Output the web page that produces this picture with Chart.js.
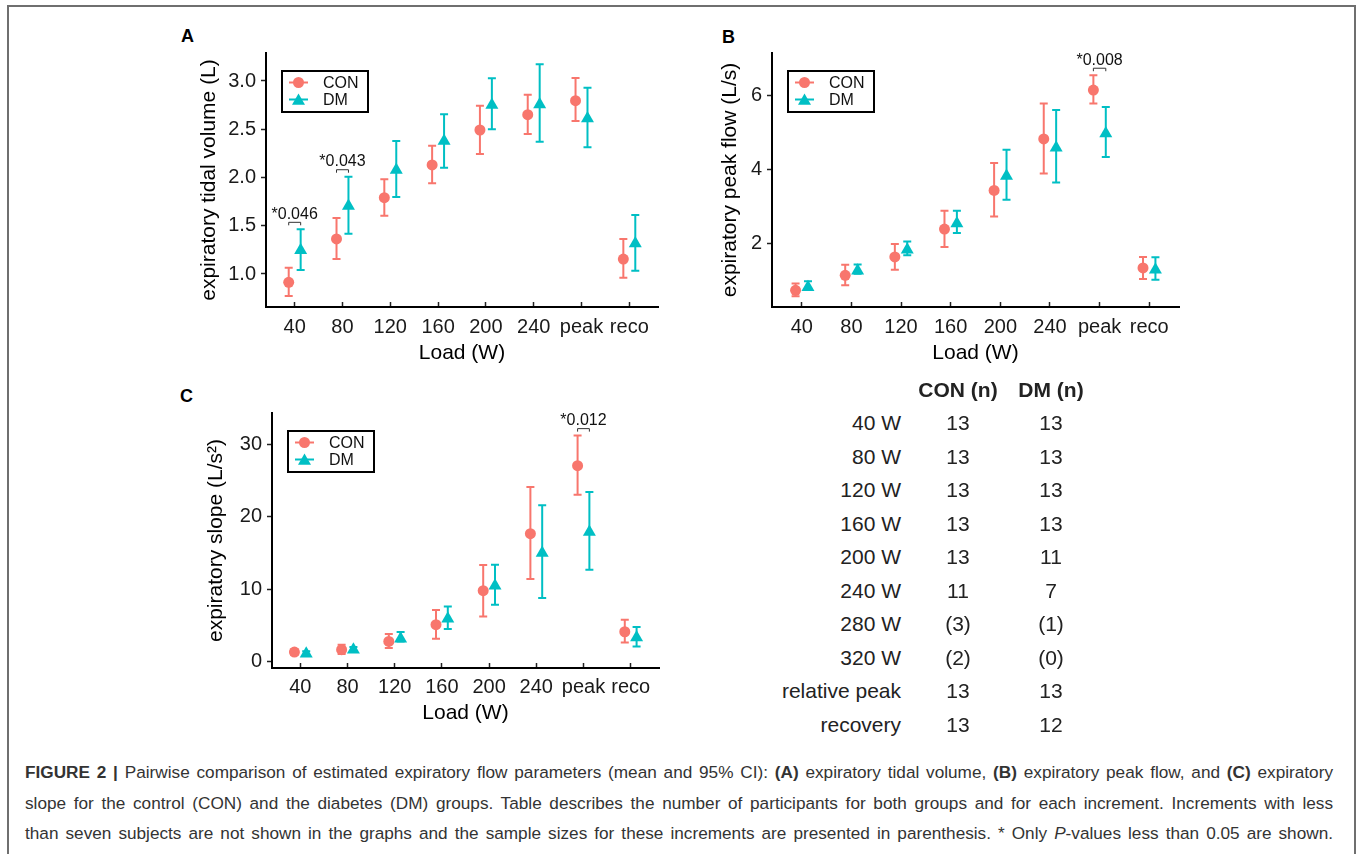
<!DOCTYPE html>
<html>
<head>
<meta charset="utf-8">
<script src="https://cdn.jsdelivr.net/npm/chart.js@4/dist/chart.umd.min.js"></script>
<style>
  body { margin: 0; background: #fff; font-family: 'Liberation Sans', Arial, sans-serif; }
  #page { position: relative; width: 1357px; height: 854px; overflow: hidden; }
  #frame { position: absolute; left: 7px; top: 5px; width: 1345px; height: 900px;
    border: 2px solid #6f6f6f; border-bottom: none; }
  canvas { position: absolute; }
  .panel { position: absolute; font-weight: bold; font-size: 18px; color: #000; }
  .cell { position: absolute; font-size: 21px; line-height: 24px; color: #222; white-space: nowrap; }
  .caption { position: absolute; left: 25px; width: 1308px; font-size: 17.2px; line-height: 30.5px;
    color: #333; text-align: justify; text-align-last: justify; white-space: nowrap; }
</style>
</head>
<body>
<div id="page">
  <div id="frame"></div>
  <div class="panel" style="left:181px; top:26px;">A</div>
  <div class="panel" style="left:722px; top:27px;">B</div>
  <div class="panel" style="left:180px; top:386px;">C</div>
  <canvas id="chartA" width="500" height="340" style="left:170px; top:40px;"></canvas>
  <canvas id="chartB" width="500" height="340" style="left:700px; top:40px;"></canvas>
  <canvas id="chartC" width="500" height="340" style="left:170px; top:400px;"></canvas>
  <div id="table"></div>
  <div class="caption" style="top:757px;"><b>FIGURE 2 |</b> Pairwise comparison of estimated expiratory flow parameters (mean and 95% CI): <b>(A)</b> expiratory tidal volume, <b>(B)</b> expiratory peak flow, and <b>(C)</b> expiratory</div>
  <div class="caption" style="top:788px;">slope for the control (CON) and the diabetes (DM) groups. Table describes the number of participants for both groups and for each increment. Increments with less</div>
  <div class="caption" style="top:818px;">than seven subjects are not shown in the graphs and the sample sizes for these increments are presented in parenthesis. * Only <i>P</i>-values less than 0.05 are shown.</div>
</div>
<script>
// categories on the x axis
const cats = ["40", "80", "120", "160", "200", "240", "peak", "reco"];

// A: expiratory tidal volume (L)
const conTv = [0.914, 1.363, 1.791, 2.130, 2.492, 2.651, 2.796, 1.155];
const conTvLo = [0.772, 1.155, 1.604, 1.940, 2.244, 2.451, 2.585, 0.962];
const conTvHi = [1.065, 1.580, 1.981, 2.330, 2.744, 2.858, 3.031, 1.363];
const dmTv = [1.245, 1.705, 2.077, 2.378, 2.751, 2.757, 2.612, 1.317];
const dmTvLo = [1.041, 1.418, 1.798, 2.102, 2.500, 2.371, 2.313, 1.034];
const dmTvHi = [1.463, 2.008, 2.378, 2.655, 3.028, 3.173, 2.931, 1.611];
const tvTicks = [1.0, 1.5, 2.0, 2.5, 3.0];
const tvP = [{ cat: 0, text: "*0.046" }, { cat: 1, text: "*0.043" }];

// B: expiratory peak flow (L/s)
const conPf = [0.744, 1.148, 1.644, 2.398, 3.44, 4.83, 6.15, 1.35];
const conPfLo = [0.582, 0.879, 1.302, 1.914, 2.74, 3.90, 5.79, 1.05];
const conPfHi = [0.925, 1.437, 1.995, 2.892, 4.18, 5.79, 6.55, 1.644];
const dmPf = [0.83, 1.27, 1.84, 2.55, 3.83, 4.59, 4.98, 1.30];
const dmPfLo = [0.76, 1.19, 1.69, 2.29, 3.19, 3.655, 4.34, 1.03];
const dmPfHi = [0.99, 1.44, 2.065, 2.89, 4.54, 5.61, 5.69, 1.635];
const pfTicks = [2, 4, 6];
const pfP = [{ cat: 6, text: "*0.008" }];

// C: expiratory slope (L/s^2)
const conSl = [1.30, 1.62, 2.77, 5.08, 9.79, 17.69, 27.1, 4.11];
const conSlLo = [0.9, 1.02, 1.86, 3.14, 6.23, 11.41, 23.09, 2.63];
const conSlHi = [1.7, 2.31, 3.79, 7.12, 13.36, 24.15, 31.26, 5.78];
const dmSl = [1.06, 1.62, 3.14, 5.91, 10.49, 15.0, 17.9, 3.32];
const dmSlLo = [0.8, 1.4, 2.77, 4.49, 7.85, 8.78, 12.7, 2.08];
const dmSlHi = [1.4, 2.0, 4.07, 7.62, 13.39, 21.61, 23.46, 4.76];
const slTicks = [0, 10, 20, 30];
const slP = [{ cat: 6, text: "*0.012" }];

// table of sample sizes
const tableRows = ["40 W", "80 W", "120 W", "160 W", "200 W", "240 W", "280 W", "320 W", "relative peak", "recovery"];
const conN = ["13", "13", "13", "13", "13", "11", "(3)", "(2)", "13", "13"];
const dmN = ["13", "13", "13", "13", "11", "7", "(1)", "(0)", "13", "12"];

const RED = "#F8766D";
const TEAL = "#00BFC4";
const FONT = "'Liberation Sans', Arial, sans-serif";

Chart.defaults.font.family = FONT;
Chart.defaults.color = "#1a1a1a";

// vertical error bars with caps, drawn under the points
const errorBars = {
  id: "errorBars",
  beforeDatasetsDraw(chart) {
    const ctx = chart.ctx;
    const yScale = chart.scales.y;
    chart.data.datasets.forEach((ds, di) => {
      const meta = chart.getDatasetMeta(di);
      ctx.save();
      ctx.strokeStyle = ds.borderColor;
      ctx.lineWidth = 2;
      meta.data.forEach((pt, i) => {
        const lo = yScale.getPixelForValue(ds.lower[i]);
        const hi = yScale.getPixelForValue(ds.upper[i]);
        ctx.beginPath();
        ctx.moveTo(pt.x, lo); ctx.lineTo(pt.x, hi);
        ctx.moveTo(pt.x - 4, lo); ctx.lineTo(pt.x + 4, lo);
        ctx.moveTo(pt.x - 4, hi); ctx.lineTo(pt.x + 4, hi);
        ctx.stroke();
      });
      ctx.restore();
    });
  }
};

function drawMarker(ctx, style, x, y, r) {
  ctx.beginPath();
  if (style === "triangle") {
    ctx.moveTo(x, y - r);
    ctx.lineTo(x + r * Math.sin(Math.PI * 2 / 3), y - r * Math.cos(Math.PI * 2 / 3));
    ctx.lineTo(x + r * Math.sin(Math.PI * 4 / 3), y - r * Math.cos(Math.PI * 4 / 3));
    ctx.closePath();
  } else {
    ctx.arc(x, y, r, 0, Math.PI * 2);
  }
  ctx.fill();
}

// boxed legend inside the top-left corner of the plot
const boxLegend = {
  id: "boxLegend",
  afterDraw(chart) {
    const { ctx, chartArea } = chart;
    const bx = chartArea.left + 16;
    const by = chartArea.top + 18;
    ctx.save();
    ctx.lineWidth = 2;
    ctx.strokeStyle = "#000";
    ctx.strokeRect(bx, by, 86, 41);
    chart.data.datasets.forEach((ds, i) => {
      const cy = by + 11.5 + i * 17;
      ctx.strokeStyle = ds.borderColor;
      ctx.fillStyle = ds.backgroundColor;
      ctx.beginPath();
      ctx.moveTo(bx + 7, cy); ctx.lineTo(bx + 26, cy);
      ctx.stroke();
      drawMarker(ctx, ds.pointStyle, bx + 16.5, cy + (ds.pointStyle === "triangle" ? 1.5 : 0), ds.pointRadius);
      ctx.fillStyle = "#111";
      ctx.font = "16px " + FONT;
      ctx.textBaseline = "middle";
      ctx.fillText(ds.label, bx + 41, cy + 1);
    });
    ctx.restore();
  }
};

// p-value labels with a small bracket over the pair
const pValues = {
  id: "pValues",
  afterDatasetsDraw(chart, args, opts) {
    const ctx = chart.ctx;
    const yScale = chart.scales.y;
    const con = chart.data.datasets[0], dm = chart.data.datasets[1];
    ctx.save();
    (opts.items || []).forEach(item => {
      const x1 = chart.getDatasetMeta(0).data[item.cat].x;
      const x2 = chart.getDatasetMeta(1).data[item.cat].x;
      const top = Math.min(yScale.getPixelForValue(con.upper[item.cat]), yScale.getPixelForValue(dm.upper[item.cat]));
      const yb = top - 7;
      ctx.strokeStyle = "#333";
      ctx.lineWidth = 1;
      ctx.beginPath();
      ctx.moveTo(x1, yb + 3); ctx.lineTo(x1, yb); ctx.lineTo(x2, yb); ctx.lineTo(x2, yb + 3);
      ctx.stroke();
      ctx.fillStyle = "#111";
      ctx.font = "16px " + FONT;
      ctx.textAlign = "center";
      ctx.textBaseline = "middle";
      ctx.fillText(item.text, (x1 + x2) / 2, yb - 8);
    });
    ctx.restore();
  }
};

function buildChart(id, p) {
  const dodge = 0.125;
  return new Chart(document.getElementById(id), {
    type: "scatter",
    data: {
      datasets: [
        {
          label: "CON",
          data: p.con.map((v, i) => ({ x: i - dodge, y: v })),
          lower: p.conLo, upper: p.conHi,
          pointStyle: "circle", pointRadius: 5.5, borderWidth: 0,
          backgroundColor: RED, borderColor: RED
        },
        {
          label: "DM",
          data: p.dm.map((v, i) => ({ x: i + dodge, y: v })),
          lower: p.dmLo, upper: p.dmHi,
          pointStyle: "triangle", pointRadius: 7.5, borderWidth: 0,
          backgroundColor: TEAL, borderColor: TEAL
        }
      ]
    },
    options: {
      responsive: false,
      animation: false,
      events: [],
      layout: { padding: { top: p.padTop, right: p.padRight, left: 0, bottom: 0 } },
      plugins: {
        legend: { display: false },
        tooltip: { enabled: false },
        pValues: { items: p.pLabels }
      },
      scales: {
        x: {
          type: "linear",
          min: -0.6,
          max: 7.6,
          afterBuildTicks: s => { s.ticks = cats.map((c, i) => ({ value: i })); },
          afterFit: s => { s.height = p.xH; s.paddingLeft = 0; s.paddingRight = 0; },
          ticks: { callback: (v, i) => cats[i], font: { size: 20 }, padding: p.xTickPad, maxRotation: 0, autoSkip: false, color: "#1a1a1a" },
          grid: { drawOnChartArea: false, tickLength: -5, tickColor: "#222", tickWidth: 1.5 },
          border: { color: "#000", width: 2 },
          title: { display: true, text: "Load (W)", font: { size: 21 }, color: "#000", padding: { top: 0, bottom: p.xTitlePad } }
        },
        y: {
          min: p.yMin,
          max: p.yMax,
          afterBuildTicks: s => { s.ticks = p.yTicks.map(v => ({ value: v })); },
          afterFit: s => { s.width = p.yW; s.paddingTop = 0; s.paddingBottom = 0; },
          ticks: { callback: v => v.toFixed(p.decimals), font: { size: 20 }, padding: 5, color: "#1a1a1a" },
          grid: { drawOnChartArea: false, tickLength: 5, tickColor: "#222", tickWidth: 1.5 },
          border: { color: "#000", width: 2 },
          title: { display: true, text: p.yTitle, font: { size: 21 }, color: "#000", padding: { top: p.yTitlePad, bottom: 0 } }
        }
      }
    },
    plugins: [errorBars, boxLegend, pValues]
  });
}

buildChart("chartA", {
  con: conTv, conLo: conTvLo, conHi: conTvHi, dm: dmTv, dmLo: dmTvLo, dmHi: dmTvHi,
  yMin: 0.658, yMax: 3.29, yTicks: tvTicks, decimals: 1, yTitle: "expiratory tidal volume (L)", pLabels: tvP,
  padTop: 13, padRight: 12, yW: 96, xH: 73, yTitlePad: 27, xTitlePad: 14, xTickPad: 13
});

buildChart("chartB", {
  con: conPf, conLo: conPfLo, conHi: conPfHi, dm: dmPf, dmLo: dmPfLo, dmHi: dmPfHi,
  yMin: 0.294, yMax: 7.15, yTicks: pfTicks, decimals: 0, yTitle: "expiratory peak flow (L/s)", pLabels: pfP,
  padTop: 13, padRight: 21, yW: 72, xH: 73, yTitlePad: 18, xTitlePad: 14, xTickPad: 13
});

buildChart("chartC", {
  con: conSl, conLo: conSlLo, conHi: conSlHi, dm: dmSl, dmLo: dmSlLo, dmHi: dmSlHi,
  yMin: -0.91, yMax: 34.39, yTicks: slTicks, decimals: 0, yTitle: "expiratory slope (L/s\u00B2)", pLabels: slP,
  padTop: 13, padRight: 11, yW: 102, xH: 72, yTitlePad: 34, xTitlePad: 14, xTickPad: 12
});

// sample size table
const table = document.getElementById("table");
function addCell(text, centerX, centerY, align, bold) {
  const d = document.createElement("div");
  d.className = "cell";
  d.textContent = text;
  d.style.top = (centerY - 12) + "px";
  if (align === "right") {
    d.style.left = (centerX - 200) + "px";
    d.style.width = "200px";
    d.style.textAlign = "right";
  } else {
    d.style.left = (centerX - 60) + "px";
    d.style.width = "120px";
    d.style.textAlign = "center";
  }
  if (bold) d.style.fontWeight = "bold";
  table.appendChild(d);
}
addCell("CON (n)", 958, 390, "center", true);
addCell("DM (n)", 1051, 390, "center", true);
tableRows.forEach((r, i) => {
  const cy = 423 + i * 33.5;
  addCell(r, 901, cy, "right", false);
  addCell(conN[i], 958, cy, "center", false);
  addCell(dmN[i], 1051, cy, "center", false);
});
</script>
</body>
</html>
